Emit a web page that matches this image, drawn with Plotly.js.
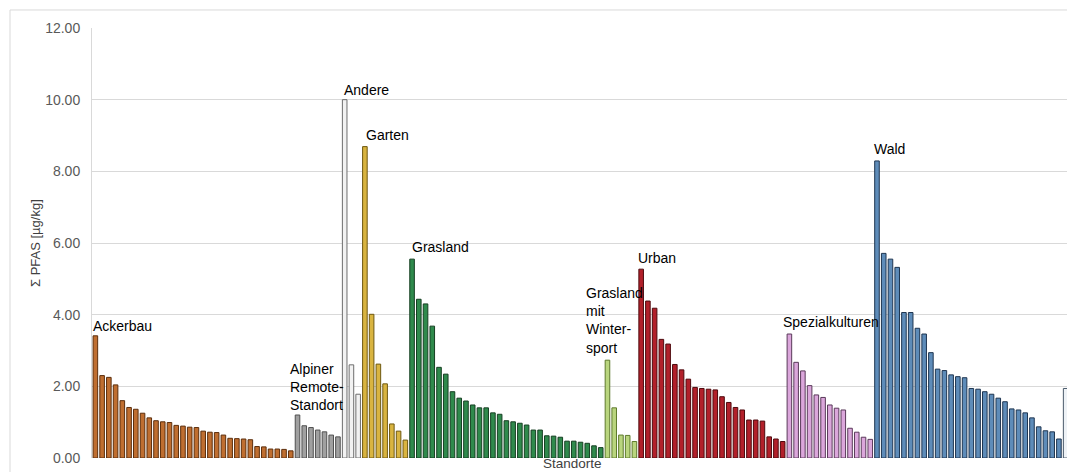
<!DOCTYPE html>
<html><head><meta charset="utf-8">
<script src="https://cdn.plot.ly/plotly-3.0.1.min.js"></script>
<style>html,body{margin:0;padding:0;background:#fff;}#chart{width:1067px;height:472px;}</style>
</head><body><div id="chart"></div>
<script>
// Group names (labels drawn on chart)
const groupLabels = ["Ackerbau", "Alpiner<br>Remote-<br>Standort", "Andere", "Garten", "Grasland",
  "Grasland<br>mit<br>Winter-<br>sport", "Urban", "Spezialkulturen", "Wald", ""];
// Values per group (µg/kg)
const ackerbau = [3.41,2.30,2.25,2.04,1.60,1.41,1.36,1.25,1.12,1.04,1.01,0.99,0.91,0.89,0.86,0.85,0.75,0.72,0.71,0.64,0.55,0.54,0.53,0.51,0.32,0.31,0.25,0.25,0.24,0.20];
const alpiner = [1.20,0.90,0.85,0.78,0.73,0.64,0.59];
const andere = [10.00,2.60,1.78];
const garten = [8.69,4.01,2.62,2.07,0.95,0.75,0.50];
const grasland = [5.55,4.43,4.30,3.68,2.53,2.34,1.85,1.67,1.59,1.48,1.40,1.40,1.26,1.22,1.04,1.01,0.97,0.92,0.78,0.78,0.62,0.61,0.58,0.47,0.47,0.44,0.41,0.34,0.29];
const wintersport = [2.73,1.40,0.64,0.63,0.46];
const urban = [5.27,4.38,4.18,3.31,3.18,2.61,2.46,2.20,1.97,1.94,1.92,1.90,1.71,1.55,1.41,1.34,1.06,1.06,1.03,0.59,0.53,0.46];
const spezial = [3.46,2.67,2.43,2.02,1.76,1.69,1.48,1.39,1.34,0.83,0.72,0.58,0.52];
const wald = [8.29,5.71,5.55,5.32,4.06,4.06,3.62,3.46,2.94,2.48,2.44,2.32,2.27,2.24,1.94,1.92,1.85,1.78,1.67,1.57,1.37,1.34,1.26,1.12,0.87,0.76,0.73,0.53];
const weitere = [1.94];
const yTicks = [0,2,4,6,8,10,12];
const yTickLabels = ["0.00","2.00","4.00","6.00","8.00","10.00","12.00"];

const groups = [ackerbau, alpiner, andere, garten, grasland, wintersport, urban, spezial, wald, weitere];
const fills = ["#BF6E30","#A0A0A0","#F2F2F2","#D9B440","#2F8A4C","#B9D57E","#B2202A","#DBA6DB","#5E8CB9","#EEF2F6"];
const lines = ["#5C2E0C","#505050","#6E6E6E","#6E5810","#163F22","#5E7A2C","#4E0A0E","#5A3A5A","#1E3550","#4A5A6A"];
// label offsets [xshift px, extra yshift px]
const labelShift = [[-4,0],[-10,0],[-3,0],[-1,2],[-2,2],[-23,2],[-5,1],[-8,2],[-5,2],[0,0]];
const FONT = "Liberation Sans, Arial, sans-serif";

const traces = [];
const annotations = [];
let start = 0;
groups.forEach((vals, gi) => {
  const xs = vals.map((v, i) => start + i);
  traces.push({type:"bar", x: xs, y: vals, width: 0.68,
    marker:{color: fills[gi], line:{color: lines[gi], width: 1}},
    hoverinfo:"y", showlegend:false});
  if (groupLabels[gi]) {
    annotations.push({xref:"x", yref:"y", x: start, y: vals[0], xanchor:"left", yanchor:"bottom",
      xshift: labelShift[gi][0], yshift: labelShift[gi][1], text: groupLabels[gi], showarrow:false, align:"left",
      font:{family:FONT, size:14, color:"#000"}});
  }
  start += vals.length;
});
annotations.push({xref:"paper", yref:"paper", x:0.493, y:0, yshift:-14, xanchor:"center", yanchor:"bottom",
  text:"Standorte", showarrow:false, borderpad:0, font:{family:FONT, size:13.5, color:"#404040"}});
annotations.push({xref:"paper", yref:"paper", x:0, xshift:-57, y:0.5, xanchor:"center", yanchor:"middle",
  textangle:-90, text:"Σ PFAS [µg/kg]", showarrow:false, font:{family:FONT, size:13, color:"#404040"}});

const layout = {
  width:1067, height:472,
  margin:{l:92, r:0, t:28, b:14, pad:0},
  paper_bgcolor:"#fff", plot_bgcolor:"#fff",
  bargap:0.3,
  xaxis:{range:[-0.5,144.2], showgrid:false, zeroline:false, showticklabels:false, ticks:"", showline:false, fixedrange:true},
  yaxis:{range:[0,12], tickvals:yTicks, ticktext:yTickLabels, showgrid:true, gridcolor:"#D9D9D9", gridwidth:1,
    zeroline:false, showline:true, linecolor:"#D9D9D9", linewidth:1, ticks:"outside", ticklen:8, tickcolor:"rgba(0,0,0,0)",
    tickfont:{family:FONT, size:14, color:"#595959"}},
  shapes:[
    {type:"line", xref:"paper", yref:"paper", x0:-0.0841, x1:1.01, y0:1.0419, y1:1.0419, line:{color:"#D9D9D9", width:1}},
    {type:"line", xref:"paper", yref:"paper", x0:-0.0841, x1:-0.0841, y0:1.0419, y1:-0.04, line:{color:"#D9D9D9", width:1}}
  ],
  annotations: annotations
};
Plotly.newPlot("chart", traces, layout, {displayModeBar:false, staticPlot:true});
</script></body></html>
